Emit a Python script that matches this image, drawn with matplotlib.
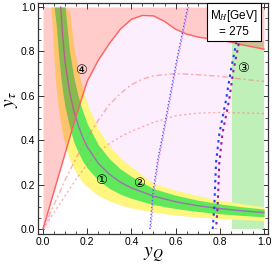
import numpy as np
import matplotlib
matplotlib.use("Agg")
import matplotlib.pyplot as plt
from matplotlib.ticker import MultipleLocator

plt.rcParams['mathtext.fontset'] = 'stix'
plt.rcParams['font.family'] = ['Liberation Sans', 'DejaVu Sans']

# red solid boundary (pink region above / left of it)
red_x = [0, 0.05, 0.1, 0.15, 0.2, 0.25, 0.3, 0.35, 0.4, 0.45, 0.5, 0.55, 0.6, 0.65, 0.7,
         0.75, 0.8, 0.85, 0.9, 0.95, 1.0]
red_y = [0, 0.17, 0.34, 0.51, 0.665, 0.76, 0.835, 0.9, 0.945, 0.962, 0.96, 0.935, 0.9, 0.878,
         0.865, 0.857, 0.85, 0.842, 0.83, 0.82, 0.81]

# red dash-dot (upper) and dotted (lower) curves
dd_x = [0, 0.05, 0.1, 0.15, 0.2, 0.25, 0.3, 0.35, 0.4, 0.45, 0.5, 0.6, 0.7, 0.8, 0.9, 1.0]
dd_y = [0, 0.11, 0.22, 0.32, 0.41, 0.49, 0.56, 0.61, 0.65, 0.675, 0.69, 0.70, 0.695, 0.688, 0.675, 0.665]
dt_x = [0, 0.05, 0.1, 0.15, 0.2, 0.25, 0.3, 0.35, 0.4, 0.5, 0.6, 0.7, 0.8, 0.9, 1.0]
dt_y = [0, 0.075, 0.15, 0.225, 0.29, 0.345, 0.385, 0.415, 0.44, 0.48, 0.51, 0.522, 0.525, 0.523, 0.52]

# fit bands
band_x = [0.03, 0.035, 0.04, 0.05, 0.06, 0.07, 0.08, 0.09, 0.10, 0.12, 0.14, 0.16, 0.18, 0.20,
          0.25, 0.30, 0.35, 0.40, 0.50, 0.60, 0.70, 0.80, 0.90, 1.00]
yel_lo = [1.27, 1.09, 0.95, 0.76, 0.63, 0.54, 0.475, 0.42, 0.38, 0.317, 0.27, 0.238, 0.21, 0.19,
          0.152, 0.127, 0.109, 0.095, 0.076, 0.063, 0.054, 0.048, 0.042, 0.038]
grn_lo = [1.83, 1.57, 1.375, 1.1, 0.92, 0.79, 0.69, 0.61, 0.55, 0.46, 0.39, 0.345, 0.305, 0.275,
          0.22, 0.183, 0.157, 0.138, 0.11, 0.092, 0.079, 0.069, 0.061, 0.055]
center = [2.6, 2.2, 1.9, 1.55, 1.3, 1.15, 1.0, 0.86, 0.75, 0.62, 0.53, 0.465, 0.412, 0.37,
          0.296, 0.247, 0.211, 0.185, 0.148, 0.123, 0.105, 0.092, 0.082, 0.074]
grn_hi = [3.4, 2.9, 2.6, 2.1, 1.75, 1.5, 1.3, 1.15, 1.02, 0.80, 0.68, 0.595, 0.53, 0.475,
          0.38, 0.317, 0.271, 0.237, 0.182, 0.152, 0.13, 0.113, 0.1, 0.09]
yel_hi = [4.0, 3.4, 3.0, 2.4, 2.0, 1.7, 1.5, 1.32, 1.18, 0.98, 0.82, 0.71, 0.63, 0.565,
          0.45, 0.375, 0.32, 0.28, 0.205, 0.175, 0.15, 0.13, 0.114, 0.1]

# blue / purple contour lines
bl1_x = [0.484, 0.499, 0.522, 0.537, 0.571, 0.605, 0.655]
bl1_y = [0, 0.176, 0.326, 0.4, 0.58, 0.76, 1.0]
pk1_x = [0.488, 0.503, 0.526, 0.541, 0.575, 0.609, 0.659]
bl2_x = [0.768, 0.775, 0.783, 0.798, 0.828, 0.85, 0.875]
bl2_y = [0, 0.1, 0.3, 0.43, 0.58, 0.716, 0.84]
pu2_x = [0.783, 0.79, 0.798, 0.812, 0.842, 0.862, 0.888]
pu2_y = [0, 0.1, 0.3, 0.43, 0.58, 0.716, 0.845]

# green excluded strip
strip_x = [0.855, 1.0]
strip_top = 0.845

labels = {'①': (0.262, 0.22), '②': (0.436, 0.206), '③': (0.906, 0.724), '④': (0.17, 0.713)}

fig = plt.figure(figsize=(2.76, 2.70), dpi=100)
ax = fig.add_axes([38 / 276, 1 - 234 / 270, 230 / 276, 231 / 270])

bx = np.array(band_x)
clip = lambda a: np.minimum(np.array(a), 1.0)

ax.fill_between(red_x, 0, red_y, color='#fdeefd', lw=0, zorder=1)
ax.fill_between(bx, 0, clip(yel_lo), color='white', lw=0, zorder=1.5)
ax.fill_between(strip_x, 0, strip_top, color='#bff0b8', lw=0, zorder=2)
ax.fill_between(bx, clip(yel_lo), clip(yel_hi), color='#fff680', lw=0, zorder=3)
ax.fill_between(bx, clip(grn_lo), clip(grn_hi), color='#5ee85a', lw=0, zorder=4)
m = bx >= 0.075
ax.plot(bx[m], clip(center)[m], color='#a070b0', lw=1.0, zorder=5)
ax.fill_between(red_x, red_y, 1.0, color='#ff3030', alpha=0.25, lw=0, zorder=6)
ax.plot(red_x, red_y, color='#ff6060', lw=1.0, zorder=7)

ax.plot(dd_x, dd_y, color='#ff7070', alpha=0.55, lw=1.0, ls=(0, (4, 2, 1.5, 2)), zorder=7)
ax.plot(dt_x, dt_y, color='#ff7070', alpha=0.55, lw=1.0, ls=(0, (1.5, 2)), zorder=7)

ax.plot(bl1_x, bl1_y, color='#4060ff', lw=1.0, ls=(0, (1, 1.5)), zorder=8)
ax.plot(pk1_x, bl1_y, color='#e080e0', lw=1.0, ls=(1.2, (1, 1.5)), zorder=8)
ax.plot(bl2_x, bl2_y, color='#2040ff', lw=1.5, ls=(0, (1.2, 2)), zorder=8)
ax.plot(pu2_x, pu2_y, color='#9a1a9a', lw=1.5, ls=(1, (1.2, 2)), zorder=8)

for k, (x, y) in labels.items():
    ax.text(x, y, k, ha='center', va='center', fontsize=9.5, family='DejaVu Sans', zorder=9)

ax.text(0.852, 0.913, 'M$_{H}$[GeV]\n= 275', transform=ax.transAxes, ha='center', va='center',
        fontsize=8.5, linespacing=1.15, zorder=10,
        bbox=dict(boxstyle='square,pad=0.3', fc='white', ec='black', lw=0.8))

ax.set_xlim(-0.0226, 1.0181)
ax.set_ylim(-0.0225, 1.018)
ax.xaxis.set_major_locator(MultipleLocator(0.2))
ax.yaxis.set_major_locator(MultipleLocator(0.2))
ax.xaxis.set_minor_locator(MultipleLocator(0.05))
ax.yaxis.set_minor_locator(MultipleLocator(0.05))
ax.xaxis.set_major_formatter(plt.FormatStrFormatter('%.1f'))
ax.yaxis.set_major_formatter(plt.FormatStrFormatter('%.1f'))
ax.tick_params(which='both', direction='in', top=True, right=True, labelsize=7.5, pad=2,
               color='#333333')
ax.tick_params(which='major', length=4, width=0.7)
ax.tick_params(which='minor', length=2, width=0.6)
for s in ax.spines.values():
    s.set_linewidth(0.9)
    s.set_color('#333333')

fig.text(153 / 276, 1 - 255 / 270, r'$y_Q$', fontsize=14, ha='center', va='center')
fig.text(12 / 276, 1 - 100 / 270, r'$y_\tau$', fontsize=14, ha='center', va='center', rotation=90)

fig.savefig('out.png', dpi=100)
